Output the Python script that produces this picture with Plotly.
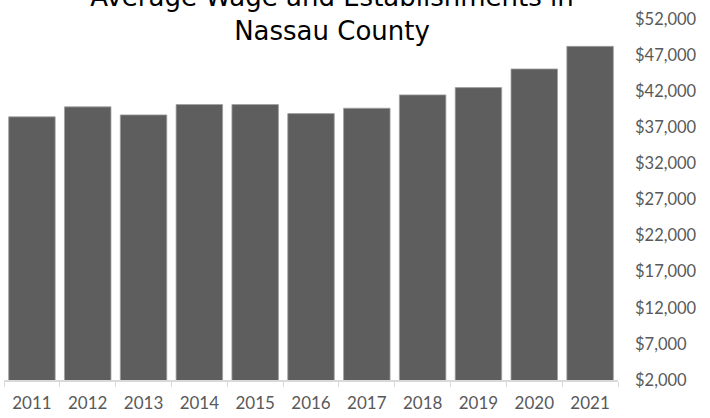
import plotly.graph_objects as go

years = ["2011", "2012", "2013", "2014", "2015", "2016", "2017", "2018", "2019", "2020", "2021"]
avg_wage = [38450, 39830, 38720, 40150, 40150, 38900, 39640, 41490, 42500, 45080, 48210]
y_ticks = [2000, 7000, 12000, 17000, 22000, 27000, 32000, 37000, 42000, 47000, 52000]
y_tick_labels = ["${:,}".format(v) for v in y_ticks]

fig = go.Figure(
    go.Bar(
        x=years,
        y=avg_wage,
        marker=dict(color="#5e5e5e", line=dict(color="#a0a0a0", width=0.8)),
        hoverinfo="x+y",
    )
)

fig.update_layout(
    width=710,
    height=418,
    margin=dict(l=4, r=92, t=18.5, b=38),
    paper_bgcolor="white",
    plot_bgcolor="white",
    bargap=0.167,
    showlegend=False,
    title=dict(
        text="Average Wage and Establishments in<br>Nassau County",
        font=dict(family="DejaVu Sans", size=26, color="#000000"),
        x=332 / 710,
        xanchor="center",
        xref="container",
        y=1 - 6 / 418,
        yref="container",
        yanchor="bottom",
    ),
    xaxis=dict(
        type="category",
        showline=True,
        linecolor="#d9d9d9",
        linewidth=1.5,
        ticks="outside",
        tickson="boundaries",
        ticklen=5,
        tickcolor="#d9d9d9",
        tickwidth=1,
        showgrid=False,
        tickfont=dict(family="Lato", size=17, color="#595959"),
        ticklabelstandoff=7,
    ),
    yaxis=dict(
        side="right",
        range=[2000, 52000],
        tickvals=y_ticks,
        ticktext=y_tick_labels,
        showgrid=False,
        showline=False,
        zeroline=False,
        ticks="",
        tickfont=dict(family="Lato", size=16.5, color="#595959"),
        ticklabelstandoff=16,
    ),
)

fig.write_html(
    "out.html",
    config={"displayModeBar": False},
    post_script="document.body.style.margin='0';",
)
